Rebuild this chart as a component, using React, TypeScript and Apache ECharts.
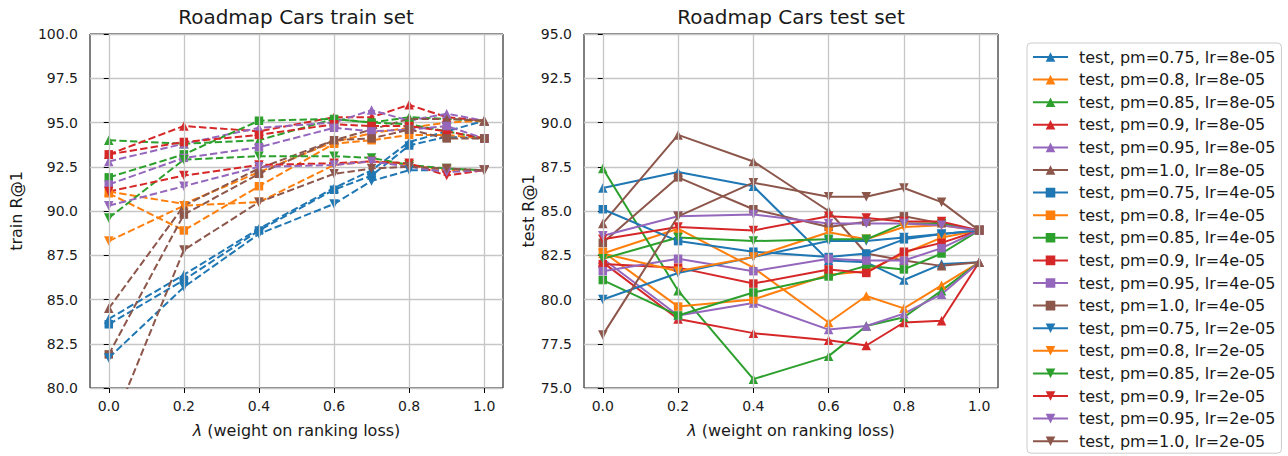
import React, { useEffect, useRef } from "react";
import * as echarts from "echarts";

const lambdas = [0, 0.2, 0.4, 0.6, 0.7, 0.8, 0.9, 1.0];
const lambdaTicks = [0, 0.2, 0.4, 0.6, 0.8, 1.0];
const pmLabels = ["0.75", "0.8", "0.85", "0.9", "0.95", "1.0"];
const lrLabels = ["8e-05", "4e-05", "2e-05"];

// train R@1, per lr, rows = pm (0.75 .. 1.0), columns = lambdas
const train8e5 = [
  [83.9, 86.4, 89.0, 91.3, 92.3, 93.9, 94.5, 95.1],
  [91.1, 90.4, 92.2, 93.9, 94.4, 94.7, 95.0, 95.1],
  [94.0, 93.8, 94.0, 95.2, 95.0, 95.3, 95.2, 95.1],
  [93.2, 94.8, 94.5, 95.3, 95.3, 96.0, 95.3, 95.1],
  [92.8, 93.8, 94.7, 95.0, 95.7, 95.1, 95.5, 95.1],
  [84.5, 90.3, 92.4, 94.0, 94.6, 95.2, 95.2, 95.1],
];
const train4e5 = [
  [83.6, 86.1, 88.9, 91.2, 92.0, 93.7, 94.2, 94.1],
  [91.0, 88.9, 91.4, 93.8, 94.0, 94.3, 94.3, 94.1],
  [91.9, 93.2, 95.1, 95.2, 95.0, 94.9, 94.5, 94.1],
  [93.2, 93.9, 94.3, 94.9, 94.8, 94.8, 94.5, 94.1],
  [91.5, 93.0, 93.6, 94.7, 94.5, 94.6, 94.8, 94.1],
  [81.9, 89.8, 92.1, 94.0, 94.1, 94.6, 94.1, 94.1],
];
const train2e5 = [
  [81.7, 85.7, 88.7, 90.4, 91.7, 92.3, 92.3, 92.3],
  [88.3, 90.3, 90.5, 92.6, 92.8, 92.6, 92.3, 92.3],
  [89.6, 92.9, 93.1, 93.1, 93.0, 92.6, 92.4, 92.3],
  [91.1, 92.0, 92.6, 92.7, 92.8, 92.7, 92.0, 92.3],
  [90.3, 91.4, 92.5, 92.6, 92.8, 92.5, 92.2, 92.3],
  [77.4, 87.8, 90.5, 92.1, 92.4, 92.5, 92.4, 92.3],
];

// test R@1
const test8e5 = [
  [86.3, 87.2, 86.4, 82.2, 82.1, 81.1, 82.0, 82.1],
  [82.6, 84.0, 81.8, 78.7, 80.2, 79.5, 80.8, 82.1],
  [87.4, 80.5, 75.5, 76.8, 78.5, 79.0, 80.5, 82.1],
  [82.1, 78.9, 78.1, 77.7, 77.4, 78.7, 78.8, 82.1],
  [82.3, 79.1, 79.8, 78.3, 78.5, 79.2, 80.3, 82.1],
  [84.3, 89.3, 87.8, 85.0, 82.6, 82.2, 81.9, 82.1],
];
const test4e5 = [
  [85.1, 83.3, 82.7, 82.4, 82.6, 83.4, 83.7, 83.9],
  [82.7, 79.6, 80.0, 81.4, 81.6, 82.6, 83.5, 83.9],
  [81.1, 79.1, 80.4, 81.3, 81.9, 81.7, 82.6, 83.9],
  [82.0, 81.8, 80.9, 81.7, 81.5, 82.7, 83.2, 83.9],
  [81.6, 82.3, 81.6, 82.3, 82.2, 82.2, 82.9, 83.9],
  [83.2, 86.9, 85.1, 84.1, 84.4, 84.7, 84.3, 83.9],
];
const test2e5 = [
  [80.0, 81.5, 82.4, 83.3, 83.3, 83.5, 83.7, 83.9],
  [82.6, 81.6, 82.4, 83.8, 83.4, 84.1, 84.2, 83.9],
  [82.3, 83.5, 83.3, 83.4, 83.4, 84.3, 84.3, 83.9],
  [83.4, 84.1, 83.9, 84.7, 84.6, 84.4, 84.4, 83.9],
  [83.6, 84.7, 84.8, 84.3, 84.3, 84.3, 84.2, 83.9],
  [78.0, 84.7, 86.6, 85.8, 85.8, 86.3, 85.5, 83.9],
];

const trainSets = [train8e5, train4e5, train2e5];
const testSets = [test8e5, test4e5, test2e5];

const colors = ["#1f77b4", "#ff7f0e", "#2ca02c", "#d62728", "#9467bd", "#8c564b"];
const markers = ["triangle", "rect", "path://M0,0L2,0L1,2Z"];
const markerSizes = [9.5, 8.5, 9.5];

const FONT = "DejaVu Sans";
const TXT = "#1a1a1a";
const GRIDC = "#c6c6c6";

function buildOption() {
  const series: any[] = [];
  const legendNames: string[] = [];

  // vertical grid lines via markLine on dummy series
  [0, 1].forEach((gi) => {
    series.push({
      type: "line",
      xAxisIndex: gi,
      yAxisIndex: gi,
      data: [],
      z: 1,
      silent: true,
      markLine: {
        silent: true,
        symbol: "none",
        label: { show: false },
        lineStyle: { color: GRIDC, width: 1.3, type: "solid" },
        emphasis: { disabled: true },
        data: lambdaTicks.map((v) => ({ xAxis: v })),
      },
    });
  });

  lrLabels.forEach((lr, li) => {
    pmLabels.forEach((pm, pi) => {
      const color = colors[pi];
      const trainName = `train, pm=${pm}, lr=${lr}`;
      const testName = `test, pm=${pm}, lr=${lr}`;
      legendNames.push(testName);
      series.push({
        name: trainName,
        type: "line",
        xAxisIndex: 0,
        yAxisIndex: 0,
        data: lambdas.map((x, i) => [x, trainSets[li][pi][i]]),
        symbol: markers[li],
        symbolSize: markerSizes[li],
        showAllSymbol: true,
        clip: true,
        z: 3,
        itemStyle: { color },
        lineStyle: { color, width: 2, type: [7.4, 3.2] },
        emphasis: { disabled: true },
      });
      series.push({
        name: testName,
        type: "line",
        xAxisIndex: 1,
        yAxisIndex: 1,
        data: lambdas.map((x, i) => [x, testSets[li][pi][i]]),
        symbol: markers[li],
        symbolSize: markerSizes[li],
        showAllSymbol: true,
        clip: true,
        z: 3,
        itemStyle: { color },
        lineStyle: { color, width: 2, type: "solid" },
        emphasis: { disabled: true },
      });
    });
  });

  const xAxisCommon = (gi: number) => ({
    type: "value",
    gridIndex: gi,
    min: -0.05,
    max: 1.05,
    splitLine: { show: false },
    axisLine: { show: false },
    axisTick: {
      show: true,
      customValues: lambdaTicks,
      length: 5,
      lineStyle: { color: "#000", width: 1 },
    },
    axisLabel: {
      customValues: lambdaTicks,
      formatter: (v: number) => v.toFixed(1),
      fontFamily: FONT,
      fontSize: 14,
      color: TXT,
      margin: 11,
    },
    name: "{i|λ} (weight on ranking loss)",
    nameLocation: "middle",
    nameGap: 34,
    nameTextStyle: {
      fontFamily: FONT,
      fontSize: 16,
      color: TXT,
      rich: { i: { fontFamily: FONT, fontSize: 16, fontStyle: "italic", color: TXT } },
    },
  });

  const yAxisCommon = (gi: number, min: number, max: number, name: string, gap: number) => ({
    type: "value",
    gridIndex: gi,
    min,
    max,
    interval: 2.5,
    splitLine: { show: true, lineStyle: { color: GRIDC, width: 1.3 } },
    axisLine: { show: false },
    axisTick: { show: true, length: 5, lineStyle: { color: "#000", width: 1 } },
    axisLabel: {
      formatter: (v: number) => v.toFixed(1),
      fontFamily: FONT,
      fontSize: 14,
      color: TXT,
      margin: 12,
    },
    name,
    nameLocation: "middle",
    nameGap: gap,
    nameTextStyle: { fontFamily: FONT, fontSize: 16, color: TXT },
  });

  return {
    animation: false,
    backgroundColor: "#ffffff",
    textStyle: { fontFamily: FONT },
    grid: [
      { left: 90, top: 34, width: 413, height: 354, show: true, borderColor: "#000", borderWidth: 1, backgroundColor: "transparent" },
      { left: 584, top: 34, width: 414, height: 354, show: true, borderColor: "#000", borderWidth: 1, backgroundColor: "transparent" },
    ],
    xAxis: [xAxisCommon(0), xAxisCommon(1)],
    yAxis: [
      yAxisCommon(0, 80, 100, "train R@1", 66),
      yAxisCommon(1, 75, 95, "test R@1", 42),
    ],
    legend: {
      data: legendNames,
      orient: "vertical",
      left: 1027,
      top: 43,
      height: 420,
      itemWidth: 35,
      itemHeight: 12,
      itemGap: 6.6,
      padding: [6, 6, 4, 5],
      borderColor: "#cccccc",
      borderWidth: 1,
      borderRadius: 4,
      backgroundColor: "rgba(255,255,255,0.8)",
      selectedMode: false,
      textStyle: { fontFamily: FONT, fontSize: 16, color: TXT, padding: [0, 0, 0, 6] },
    },
    graphic: [
      {
        type: "text",
        x: 296,
        y: 17,
        silent: true,
        style: {
          text: "Roadmap Cars train set",
          font: `20px "${FONT}"`,
          fill: TXT,
          align: "center",
          verticalAlign: "middle",
          textAlign: "center",
          textVerticalAlign: "middle",
        },
      },
      {
        type: "text",
        x: 791,
        y: 17,
        silent: true,
        style: {
          text: "Roadmap Cars test set",
          font: `20px "${FONT}"`,
          fill: TXT,
          align: "center",
          verticalAlign: "middle",
          textAlign: "center",
          textVerticalAlign: "middle",
        },
      },
    ],
    series,
  };
}

export default function App() {
  const ref = useRef<HTMLDivElement>(null);
  useEffect(() => {
    if (!ref.current) return;
    const chart = echarts.init(ref.current, undefined, { renderer: "svg" });
    chart.setOption(buildOption() as any);
    return () => chart.dispose();
  }, []);
  return (
    <div
      ref={ref}
      style={{ position: "fixed", left: 0, top: 0, width: 1288, height: 456, background: "#fff" }}
    />
  );
}
